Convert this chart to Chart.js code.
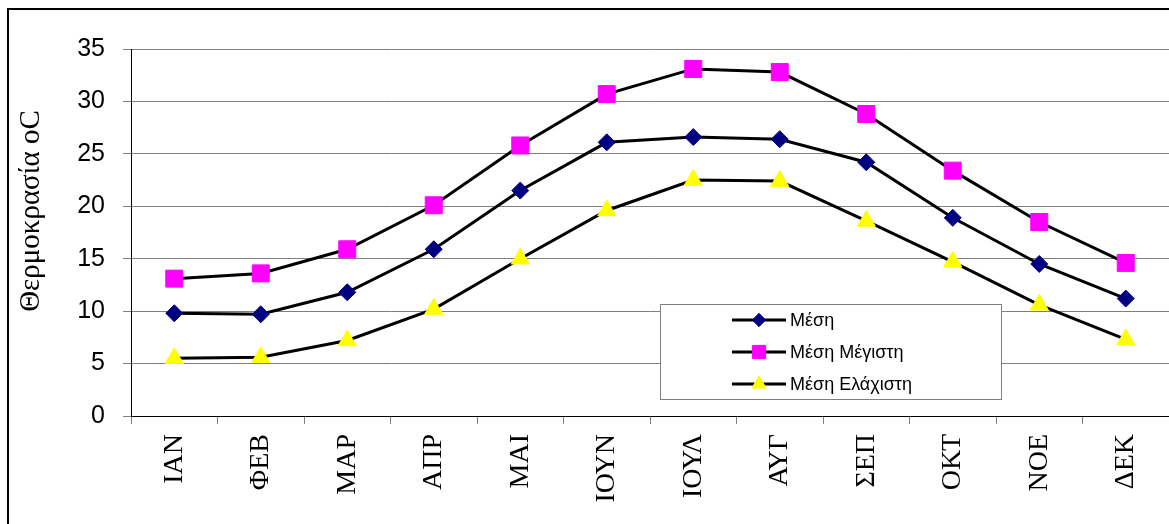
<!DOCTYPE html>
<html>
<head>
<meta charset="utf-8">
<script src="https://cdn.jsdelivr.net/npm/chart.js@4.4.1/dist/chart.umd.min.js"></script>
<style>
  html, body { margin: 0; padding: 0; background: #fff; }
  #wrap { position: relative; width: 1169px; height: 524px; }
</style>
</head>
<body>
<div id="wrap"><canvas id="tempChart" width="1169" height="524"></canvas></div>
<script>
// ---------- DATA ----------
const months = ['ΙΑΝ', 'ΦΕΒ', 'ΜΑΡ', 'ΑΠΡ', 'ΜΑΙ', 'ΙΟΥΝ', 'ΙΟΥΛ', 'ΑΥΓ', 'ΣΕΠ', 'ΟΚΤ', 'ΝΟΕ', 'ΔΕΚ'];
const meanTemp = [9.8, 9.7, 11.8, 15.9, 21.5, 26.1, 26.6, 26.4, 24.2, 18.9, 14.5, 11.2];
const meanMax = [13.1, 13.6, 15.9, 20.1, 25.8, 30.7, 33.1, 32.8, 28.8, 23.4, 18.5, 14.6];
const meanMin = [5.5, 5.6, 7.2, 10.2, 15.0, 19.6, 22.5, 22.4, 18.6, 14.7, 10.6, 7.3];
const seriesNames = ['Μέση', 'Μέση Μέγιστη', 'Μέση Ελάχιστη'];
const yTicks = [0, 5, 10, 15, 20, 25, 30, 35];
const yTitle = 'Θερμοκρασία oC';

const GRID = '#808080';
const SERIF = '"Liberation Serif", "Times New Roman", serif';
const SANS = '"Liberation Sans", Arial, sans-serif';

// frame lines, axis title and legend box drawn by hand (legend sits inside the plot)
const framePlugin = {
    id: 'frame',
    beforeDraw(chart) {
        const ctx = chart.ctx;
        ctx.save();
        ctx.strokeStyle = '#000';
        ctx.lineWidth = 2;
        ctx.beginPath();
        ctx.moveTo(8, 524);
        ctx.lineTo(8, 9);
        ctx.lineTo(1169, 9);
        ctx.stroke();

        // y axis title
        ctx.translate(31, 211);
        ctx.rotate(-Math.PI / 2);
        ctx.fillStyle = '#000';
        ctx.font = '29px ' + SERIF;
        ctx.textAlign = 'center';
        ctx.textBaseline = 'middle';
        ctx.fillText(yTitle, 0, 0);
        ctx.restore();
    },
    afterDraw(chart) {
        const ctx = chart.ctx;
        ctx.save();
        const bx = 660, by = 304, bw = 341, bh = 95;
        ctx.fillStyle = '#fff';
        ctx.fillRect(bx, by, bw, bh);
        ctx.strokeStyle = GRID;
        ctx.lineWidth = 1;
        ctx.strokeRect(bx + 0.5, by + 0.5, bw, bh);

        chart.data.datasets.forEach((ds, i) => {
            const y = 320 + i * 32;
            ctx.strokeStyle = '#000';
            ctx.lineWidth = 3;
            ctx.beginPath();
            ctx.moveTo(732, y);
            ctx.lineTo(786, y);
            ctx.stroke();
            ctx.fillStyle = ds.pointBackgroundColor;
            ctx.strokeStyle = ds.pointBorderColor;
            ctx.lineWidth = 1;
            Chart.helpers.drawPoint(ctx, {
                pointStyle: ds.pointStyle,
                radius: ds.pointRadius * 0.78,
                borderWidth: 1
            }, 759, y);

            ctx.fillStyle = '#000';
            ctx.font = '18px ' + SANS;
            ctx.textBaseline = 'middle';
            ctx.textAlign = 'left';
            ctx.fillText(ds.label, 790, y + 1);
        });
        ctx.restore();
    }
};

const ctx = document.getElementById('tempChart').getContext('2d');
const tempChart = new Chart(ctx, {
    type: 'line',
    data: {
        labels: months,
        datasets: [{
            label: seriesNames[0],
            data: meanTemp,
            borderColor: '#000',
            borderWidth: 3,
            pointStyle: 'rectRot',
            pointRadius: 8.5,
            pointBackgroundColor: '#000080',
            pointBorderColor: '#000080',
            pointBorderWidth: 1
        }, {
            label: seriesNames[1],
            data: meanMax,
            borderColor: '#000',
            borderWidth: 3,
            pointStyle: 'rect',
            pointRadius: 12,
            pointBackgroundColor: '#ff00ff',
            pointBorderColor: '#ff00ff',
            pointBorderWidth: 1
        }, {
            label: seriesNames[2],
            data: meanMin,
            borderColor: '#000',
            borderWidth: 3,
            pointStyle: 'triangle',
            pointRadius: 10.5,
            pointBackgroundColor: '#ffff00',
            pointBorderColor: '#ffff00',
            pointBorderWidth: 1
        }]
    },
    options: {
        responsive: false,
        animation: false,
        layout: {
            autoPadding: false,
            padding: { top: 49, left: 12, right: -6, bottom: 0 }
        },
        plugins: {
            legend: { display: false },
            tooltip: { enabled: false }
        },
        scales: {
            x: {
                offset: true,
                grid: {
                    offset: true,
                    drawOnChartArea: false,
                    color: GRID,
                    tickLength: 8
                },
                border: { color: '#000', width: 1 },
                ticks: {
                    minRotation: 90,
                    maxRotation: 90,
                    padding: 10,
                    color: '#000',
                    font: { family: SERIF, size: 28 }
                },
                afterFit(scale) {
                    scale.height = 108;
                    scale.paddingLeft = 0;
                    scale.paddingRight = 0;
                }
            },
            y: {
                min: 0,
                max: 35,
                afterBuildTicks(scale) { scale.ticks = yTicks.map(v => ({ value: v })); },
                grid: {
                    color: GRID,
                    tickLength: 8
                },
                border: { color: '#000', width: 1 },
                ticks: {
                    padding: 18,
                    color: '#000',
                    font: { family: SANS, size: 25 }
                },
                afterFit(scale) {
                    scale.width = 119;
                    scale.paddingTop = 0;
                    scale.paddingBottom = 0;
                }
            }
        }
    },
    plugins: [framePlugin]
});
</script>
</body>
</html>
